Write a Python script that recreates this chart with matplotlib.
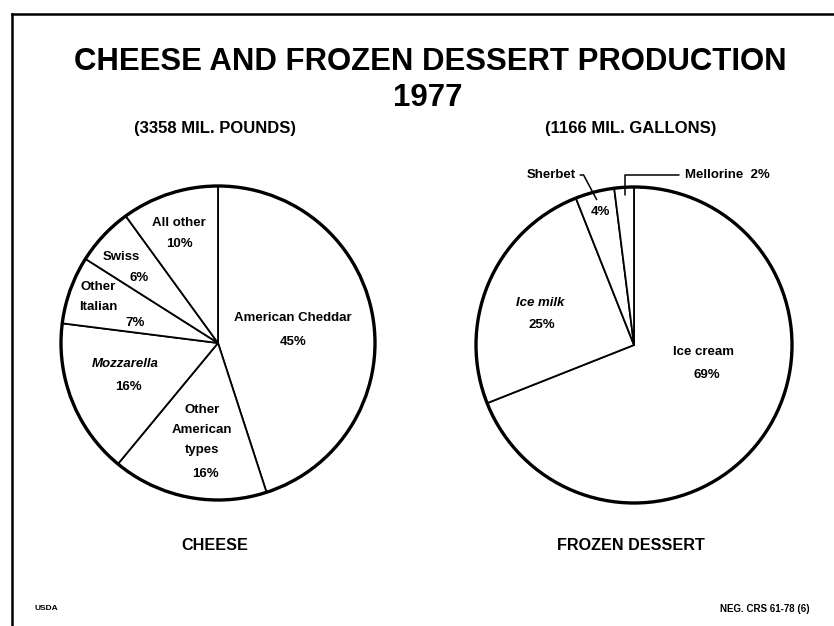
import matplotlib
matplotlib.use("Agg")
import matplotlib.pyplot as plt
import numpy as np

# ---- data ----
cheese_labels = ["American Cheddar", "Other\nAmerican\ntypes", "Mozzarella", "Other\nItalian", "Swiss", "All other"]
cheese_values = [45, 16, 16, 7, 6, 10]
frozen_labels = ["Ice cream", "Ice milk", "Sherbet", "Mellorine"]
frozen_values = [69, 25, 4, 2]
title_line1 = "CHEESE AND FROZEN DESSERT PRODUCTION"
title_line2 = "1977"
cheese_total = "(3358 MIL. POUNDS)"
frozen_total = "(1166 MIL. GALLONS)"
cheese_caption = "CHEESE"
frozen_caption = "FROZEN DESSERT"

W, H = 834, 626
plt.rcParams['font.family'] = ['Liberation Sans', 'DejaVu Sans']
fig = plt.figure(figsize=(W / 100, H / 100), dpi=100)
ax = fig.add_axes([0, 0, 1, 1])

def py(y):  # pixel y (top-down) -> data y
    return H - y

# pies
c_cx, c_cy, c_r = 218, py(343), 157
f_cx, f_cy, f_r = 634, py(345), 158

wp = dict(edgecolor='black', linewidth=1.3, facecolor='white')
ax.pie(cheese_values, center=(c_cx, c_cy), radius=c_r, startangle=90,
       counterclock=False, wedgeprops=wp, frame=True)
ax.pie(frozen_values, center=(f_cx, f_cy), radius=f_r, startangle=90,
       counterclock=False, wedgeprops=wp, frame=True)
ax.set_xlim(0, W)
ax.set_ylim(0, H)
ax.set_aspect('equal')
ax.axis('off')
for (cx, cy, r) in [(c_cx, c_cy, c_r), (f_cx, f_cy, f_r)]:
    ax.add_patch(plt.Circle((cx, cy), r, fill=False, edgecolor='black', lw=2.4, zorder=5))

# border
ax.plot([12, W], [py(14), py(14)], color='black', lw=1.8)
ax.plot([12, 12], [py(14), 0], color='black', lw=1.8)

# titles
ax.text(430, py(62), title_line1, ha='center', va='center', fontsize=22.4, fontweight='bold')
ax.text(428, py(98), title_line2, ha='center', va='center', fontsize=22.4, fontweight='bold')
ax.text(215, py(129), cheese_total, ha='center', va='center', fontsize=12, fontweight='bold')
ax.text(631, py(129), frozen_total, ha='center', va='center', fontsize=12, fontweight='bold')

lab_fs = 9.5
LS = 1.85
# cheese labels: (name position, percent position) in pixels
cheese_name_pos = [(293, 318), (202, 430), (125, 364), (98, 297), (121, 257), (179, 223)]
cheese_pct_pos = [(293, 342), (205, 474), (128, 387), (135, 323), (139, 278), (179, 244)]
cheese_style = ['normal', 'normal', 'italic', 'normal', 'normal', 'normal']
for lab, v, (nx, ny), (px_, py_), st in zip(cheese_labels, cheese_values, cheese_name_pos,
                                             cheese_pct_pos, cheese_style):
    ax.text(nx, py(ny), lab, ha='center', va='center', fontsize=lab_fs, fontweight='bold',
            style=st, linespacing=LS)
    ax.text(px_, py(py_), f"{v}%", ha='center', va='center', fontsize=lab_fs, fontweight='bold')

# frozen labels
frozen_name_pos = [(704, 352), (540, 303)]
frozen_pct_pos = [(707, 375), (542, 325)]
frozen_style = ['normal', 'italic']
for lab, v, (nx, ny), (px_, py_), st in zip(frozen_labels[:2], frozen_values[:2], frozen_name_pos,
                                             frozen_pct_pos, frozen_style):
    ax.text(nx, py(ny), lab, ha='center', va='center', fontsize=lab_fs, fontweight='bold', style=st)
    ax.text(px_, py(py_), f"{v}%", ha='center', va='center', fontsize=lab_fs, fontweight='bold')
ax.text(600, py(212), f"{frozen_values[2]}%", ha='center', va='center', fontsize=lab_fs,
        fontweight='bold')

# leader lines for the small slices
cum = np.cumsum([0] + frozen_values)
def edge_point(i, frac=0.95):
    mid = 90 - 3.6 * (cum[i] + frozen_values[i] / 2)
    a = np.deg2rad(mid)
    return (f_cx + f_r * frac * np.cos(a), f_cy + f_r * frac * np.sin(a))

ax.annotate(frozen_labels[2], xy=edge_point(2), xytext=(576, py(175)),
            ha='right', va='center', fontsize=lab_fs, fontweight='bold',
            arrowprops=dict(arrowstyle='-', lw=1.1, color='black', shrinkA=1, shrinkB=0,
                            connectionstyle='angle,angleA=0,angleB=-62,rad=0'))
ax.annotate(f"{frozen_labels[3]}  {frozen_values[3]}%", xy=edge_point(3), xytext=(685, py(175)),
            ha='left', va='center', fontsize=lab_fs, fontweight='bold',
            arrowprops=dict(arrowstyle='-', lw=1.1, color='black', shrinkA=2, shrinkB=0,
                            connectionstyle='angle,angleA=0,angleB=90,rad=0'))

# bottom captions
ax.text(215, py(546), cheese_caption, ha='center', va='center', fontsize=11.6, fontweight='bold')
ax.text(631, py(546), frozen_caption, ha='center', va='center', fontsize=11.6, fontweight='bold')
ax.text(35, py(609), "USDA", ha='left', va='center', fontsize=6, fontweight='bold')
ax.text(810, py(609), "NEG. CRS 61-78 (6)", ha='right', va='center', fontsize=7, fontweight='bold')

fig.savefig("out.png", dpi=100, facecolor='white')
